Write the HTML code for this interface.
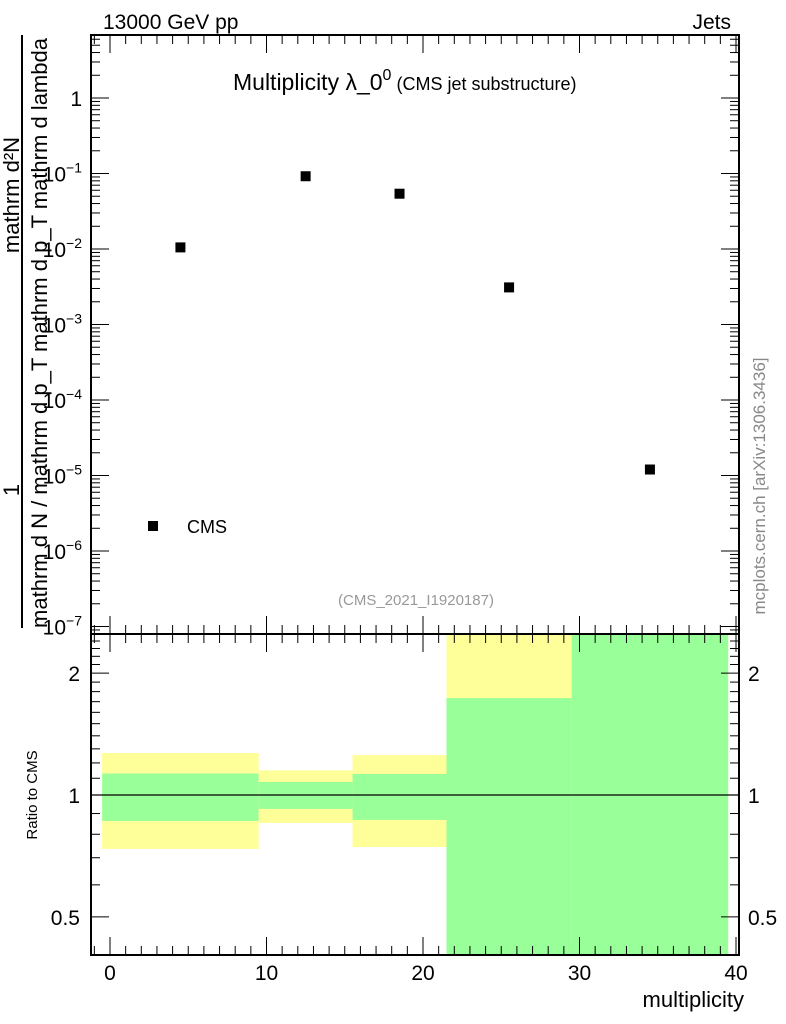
<!DOCTYPE html>
<html><head><meta charset="utf-8"><style>
html,body{margin:0;padding:0;background:#fff;}
svg{display:block;font-family:"Liberation Sans",sans-serif;}
</style></head><body>
<svg id="c" width="786" height="1024" viewBox="0 0 786 1024" xmlns="http://www.w3.org/2000/svg">
<g id="g"></g>
</svg>
<script>
const categoriesX = [4.5, 12.5, 18.5, 25.5, 34.5];
const cmsValues = [0.0105, 0.092, 0.054, 0.0031, 0.000012];
const binEdges = [-0.5, 9.5, 15.5, 21.5, 29.5, 39.5];
const yellowHi = [1.27, 1.15, 1.255, 3.0, 3.0];
const yellowLo = [0.736, 0.853, 0.744, 0.3, 0.3];
const greenHi = [1.13, 1.077, 1.127, 1.735, 3.0];
const greenLo = [0.863, 0.924, 0.868, 0.3, 0.3];
const xTicks = [0, 10, 20, 30, 40];
const yTopTicks = [0, -1, -2, -3, -4, -5, -6, -7];
const ratioTicks = [0.5, 1, 2];

const NS = "http://www.w3.org/2000/svg";
const g = document.getElementById('g');
const L = 91, R = 739, T1 = 35, B1 = 634, T2 = 634, B2 = 955;
const X = v => 110 + (v) * (736 - 110) / 40;
const Y1 = v => 98 - Math.log10(v) * 75.5;
const Y2 = v => 795 - Math.log10(v) * 405;
function el(tag, attrs, name, text) {
  const e = document.createElementNS(NS, tag);
  for (const k in attrs) e.setAttribute(k, attrs[k]);
  
  
  if (text !== undefined) e.textContent = text;
  g.appendChild(e);
  return e;
}
const clampR = v => Math.max(T2, Math.min(B2, v));
for (let i = 0; i < binEdges.length - 1; i++) {
  const x0 = X(binEdges[i]), x1 = X(binEdges[i + 1]);
  const yh = clampR(Y2(yellowHi[i])), yl = clampR(Y2(yellowLo[i]));
  el('rect', {x: x0, y: yh, width: x1 - x0, height: yl - yh, fill: '#ffff99'}, 'yellow-band-' + i);
  const gh = clampR(Y2(greenHi[i])), gl = clampR(Y2(greenLo[i]));
  el('rect', {x: x0, y: gh, width: x1 - x0, height: gl - gh, fill: '#99ff99'}, 'green-band-' + i);
}
el('line', {x1: L, x2: R, y1: Y2(1), y2: Y2(1), stroke: '#000', 'stroke-width': 1.3}, 'ratio-one-line');
for (let i = 0; i < categoriesX.length; i++) {
  el('rect', {x: X(categoriesX[i]) - 5, y: Y1(cmsValues[i]) - 5, width: 10, height: 10, fill: '#000'}, 'cms-point-' + i);
}
el('rect', {x: L, y: T1, width: R - L, height: B1 - T1, fill: 'none', stroke: '#000', 'stroke-width': 2}, 'top-frame');
el('rect', {x: L, y: T2, width: R - L, height: B2 - T2, fill: 'none', stroke: '#000', 'stroke-width': 2}, 'ratio-frame');
for (const [top, bot] of [[T1, B1], [T2, B2]]) {
  for (let v = -1; v <= 40; v++) {
    const x = X(v); if (x < L || x > R) continue;
    const len = v % 10 === 0 ? 18 : 9;
    el('line', {x1: x, x2: x, y1: bot, y2: bot - len, stroke: '#000'}, 'x-tick');
    el('line', {x1: x, x2: x, y1: top, y2: top + len, stroke: '#000'}, 'x-tick');
  }
}
xTicks.forEach(v => el('text', {x: X(v), y: 980, 'font-size': 21, 'text-anchor': 'middle'}, 'x-tick-label', String(v)));
for (let d = -8; d <= 1; d++) {
  for (let m = 1; m < 10; m++) {
    const y = Y1(m * Math.pow(10, d)); if (y < T1 || y > B1) continue;
    const len = m === 1 ? 18 : 9;
    el('line', {x1: L, x2: L + len, y1: y, y2: y, stroke: '#000'}, 'y-tick');
    el('line', {x1: R, x2: R - len, y1: y, y2: y, stroke: '#000'}, 'y-tick');
  }
}
yTopTicks.forEach(d => {
  const y = Y1(Math.pow(10, d)) + 8;
  if (d === 0) el('text', {x: 82, y: y, 'font-size': 21, 'text-anchor': 'end'}, 'y-tick-label', '1');
  else {
    const t = el('text', {x: 82, y: y, 'font-size': 21, 'text-anchor': 'end'}, 'y-tick-label');
    t.innerHTML = '10<tspan dy="-9" font-size="14">\u2212' + (-d) + '</tspan>';
  }
});
for (let v = 0.4; v <= 2.5; v += 0.1) {
  const y = Y2(v); if (y < T2 || y > B2) continue;
  const major = [0.5, 1, 2].some(m => Math.abs(m - v) < 1e-6);
  const len = major ? 18 : 9;
  el('line', {x1: L, x2: L + len, y1: y, y2: y, stroke: '#000'}, 'ratio-tick');
  el('line', {x1: R, x2: R - len, y1: y, y2: y, stroke: '#000'}, 'ratio-tick');
}
ratioTicks.forEach(v => {
  el('text', {x: 80, y: Y2(v) + 8, 'font-size': 21, 'text-anchor': 'end'}, 'ratio-tick-label', String(v));
  el('text', {x: 748, y: Y2(v) + 8, 'font-size': 21}, 'ratio-tick-label-right', String(v));
});
el('text', {x: 103, y: 29, 'font-size': 21}, 'energy-label', '13000 GeV pp');
el('text', {x: 731, y: 29, 'font-size': 21, 'text-anchor': 'end'}, 'process-label', 'Jets');
const ti = el('text', {x: 233, y: 90, 'font-size': 23}, 'plot-title');
ti.innerHTML = 'Multiplicity λ_0<tspan dy="-10" font-size="16">0</tspan><tspan dy="10" font-size="18"> (CMS jet substructure)</tspan>';
el('rect', {x: 148, y: 521, width: 10, height: 10, fill: '#000'}, 'legend-marker');
el('text', {x: 187, y: 533, 'font-size': 18}, 'legend-label', 'CMS');
el('text', {x: 416, y: 605, 'font-size': 15, fill: '#999', 'text-anchor': 'middle'}, 'analysis-id', '(CMS_2021_I1920187)');
el('text', {x: 744, y: 1007, 'font-size': 22, 'text-anchor': 'end'}, 'x-axis-title', 'multiplicity');
el('text', {x: 0, y: 0, 'font-size': 15, 'text-anchor': 'middle', transform: 'translate(37,795) rotate(-90)'}, 'ratio-axis-title', 'Ratio to CMS');
el('text', {x: 0, y: 0, 'font-size': 17, fill: '#888', 'text-anchor': 'middle', transform: 'translate(765,486) rotate(-90)'}, 'watermark', 'mcplots.cern.ch [arXiv:1306.3436]');
el('line', {x1: 22, x2: 22, y1: 35, y2: 628, stroke: '#000', 'stroke-width': 2}, 'y-title-fraction-bar');
el('text', {x: 0, y: 0, 'font-size': 22, 'text-anchor': 'middle', transform: 'translate(19,490) rotate(-90)'}, 'y-title-numerator-1', '1');
el('text', {x: 0, y: 0, 'font-size': 22, 'text-anchor': 'middle', transform: 'translate(19,195) rotate(-90)'}, 'y-title-numerator-2', 'mathrm d²N');
el('text', {x: 628, y: 0, 'font-size': 22, textLength: 590, lengthAdjust: 'spacingAndGlyphs', transform: 'translate(47,0) rotate(-90) translate(-1256,0)'}, 'y-title-denominator', 'mathrm d N / mathrm d p_T mathrm d p_T mathrm d lambda');
</script>
</body></html>
